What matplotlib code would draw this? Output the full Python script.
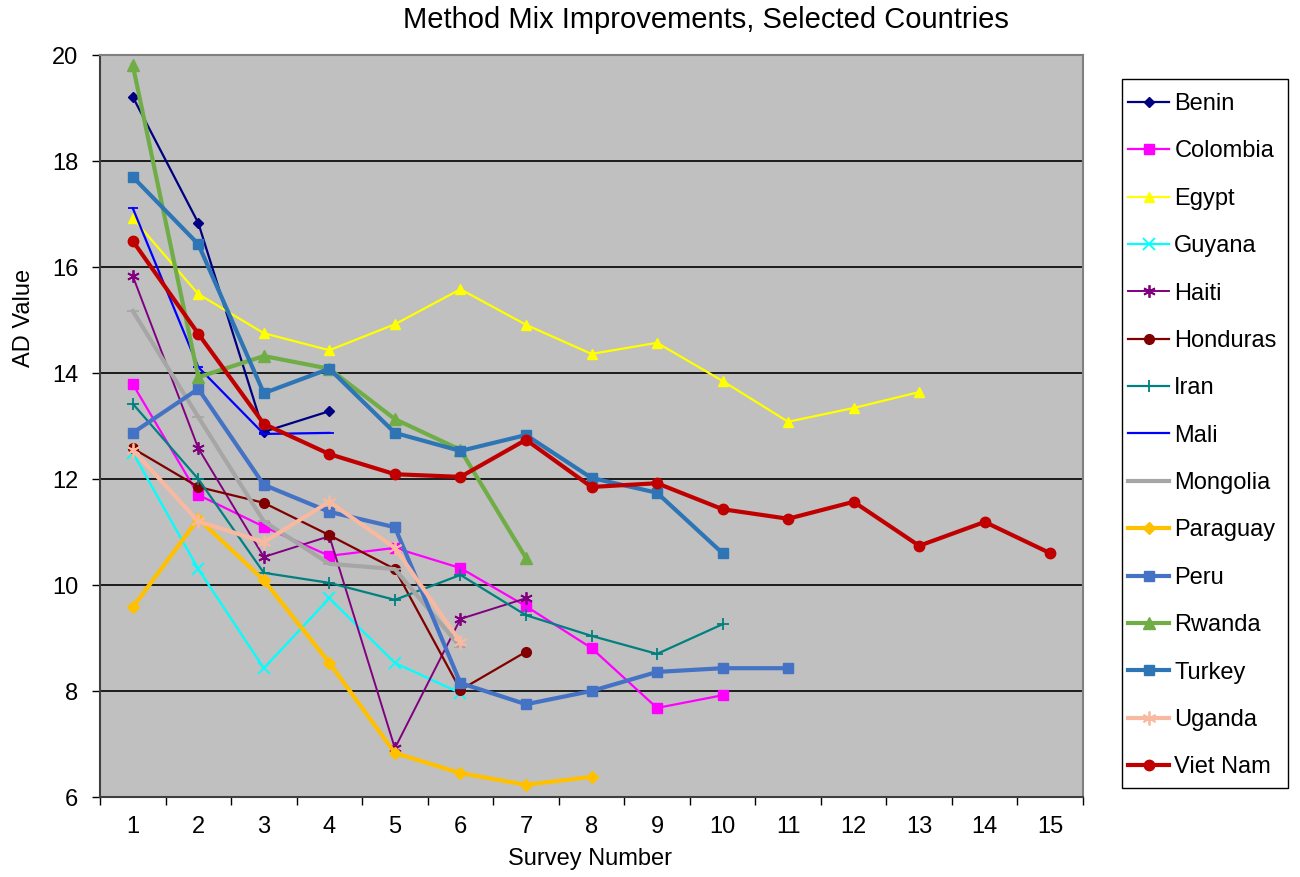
import matplotlib
matplotlib.use("Agg")
import matplotlib.pyplot as plt
from matplotlib.ticker import FixedLocator, NullFormatter
from matplotlib.patches import Rectangle

plt.rcParams['font.family'] = ['Liberation Sans', 'DejaVu Sans']

countries = ["Benin", "Colombia", "Egypt", "Guyana", "Haiti", "Honduras", "Iran",
             "Mali", "Mongolia", "Paraguay", "Peru", "Rwanda", "Turkey", "Uganda", "Viet Nam"]

benin = [19.21, 16.83, 12.89, 13.28]
colombia = [13.79, 11.70, 11.10, 10.55, 10.70, 10.32, 9.60, 8.81, 7.68, 7.92]
egypt = [16.92, 15.49, 14.75, 14.43, 14.92, 15.58, 14.91, 14.36, 14.57, 13.85, 13.08, 13.34, 13.64]
guyana = [12.50, 10.30, 8.43, 9.75, 8.53, 7.96]
haiti = [15.83, 12.58, 10.53, 10.92, 6.92, 9.36, 9.75]
honduras = [12.58, 11.85, 11.55, 10.94, 10.30, 8.02, 8.74]
iran = [13.42, 12.00, 10.23, 10.04, 9.72, 10.19, 9.43, 9.04, 8.70, 9.26]
mali = [17.11, 14.11, 12.85, 12.87]
mongolia = [15.17, 13.17, 11.20, 10.40, 10.30, 8.83]
paraguay = [9.58, 11.25, 10.09, 8.53, 6.83, 6.45, 6.23, 6.38]
peru = [12.87, 13.70, 11.89, 11.38, 11.09, 8.15, 7.75, 8.00, 8.36, 8.43, 8.43]
rwanda = [19.81, 13.92, 14.32, 14.08, 13.13, 12.55, 10.51]
turkey = [17.70, 16.43, 13.62, 14.08, 12.87, 12.53, 12.83, 12.02, 11.74, 10.60]
uganda = [12.55, 11.20, 10.81, 11.57, 10.70, 8.92]
vietnam = [16.49, 14.74, 13.04, 12.47, 12.09, 12.04, 12.74, 11.85, 11.92, 11.43,
           11.25, 11.57, 10.74, 11.19, 10.60]

series = [benin, colombia, egypt, guyana, haiti, honduras, iran, mali, mongolia,
          paraguay, peru, rwanda, turkey, uganda, vietnam]

# style: color, marker, linewidth, markersize
styles = [
    ("#000080", "D", 1.6, 5.5),
    ("#FF00FF", "s", 1.6, 6.5),
    ("#FFFF00", "^", 1.6, 7.5),
    ("#00FFFF", "x", 1.6, 8),
    ("#800080", (6, 2, 0), 1.4, 9),
    ("#800000", "o", 1.6, 7),
    ("#008080", "+", 1.6, 9),
    ("#0000FF", "_", 1.6, 7),
    ("#A6A6A6", "_", 3.0, 9),
    ("#FFC000", "D", 3.0, 6),
    ("#4472C4", "s", 3.0, 7.5),
    ("#70AD47", "^", 3.0, 8),
    ("#2E75B6", "s", 3.0, 7.5),
    ("#F8B9A0", (6, 2, 0), 3.0, 10),
    ("#C00000", "o", 3.0, 7.5),
]

FS = 17

fig = plt.figure(figsize=(13, 8.77), dpi=100)
ax = fig.add_axes([100/1300, 80/877, 983/1300, 742/877])
ax.set_facecolor("#C0C0C0")

handles = []
for i, (name, vals, st) in enumerate(zip(countries, series, styles)):
    color, marker, lw, ms = st
    x = list(range(1, len(vals) + 1))
    mew = 1.3 if marker in ("x", "+", "_") or isinstance(marker, tuple) else 1.0
    h, = ax.plot(x, vals, color=color, marker=marker, linewidth=lw, markersize=ms,
                 markeredgewidth=mew, markeredgecolor=color, markerfacecolor=color,
                 label=name, zorder=3 + i, solid_joinstyle="round")
    handles.append(h)

ax.set_xlim(0.5, 15.5)
ax.set_ylim(6, 20)
ax.set_yticks(range(6, 21, 2))
ax.yaxis.grid(True, color="black", linewidth=1.2, zorder=1)
ax.set_axisbelow(True)

ax.xaxis.set_major_locator(FixedLocator([i + 0.5 for i in range(0, 16)]))
ax.xaxis.set_major_formatter(NullFormatter())
ax.xaxis.set_minor_locator(FixedLocator(list(range(1, 16))))
ax.set_xticklabels([str(i) for i in range(1, 16)], minor=True)
ax.tick_params(axis="x", which="minor", length=0, pad=14, labelsize=FS)
ax.tick_params(axis="x", which="major", length=5.5, width=1, direction="out")
ax.tick_params(axis="y", length=5.5, width=1, direction="out", labelsize=FS, pad=10)

for sp in ["top", "right"]:
    ax.spines[sp].set_color("#808080")
    ax.spines[sp].set_linewidth(1.5)
for sp in ["left", "bottom"]:
    ax.spines[sp].set_color("#404040")
    ax.spines[sp].set_linewidth(1.5)

ax.set_xlabel("Survey Number", fontsize=FS)
ax.xaxis.set_label_coords(590/1300, 1 - 848/877, transform=fig.transFigure)
ax.set_ylabel("AD Value", fontsize=FS)
ax.yaxis.set_label_coords(35/1300, 1 - 318/877, transform=fig.transFigure)
fig.text(706/1300, 1 - 20/877, "Method Mix Improvements, Selected Countries",
         ha="center", va="center", fontsize=21)

fig.patches.append(Rectangle((1122/1300, 1 - 788/877), 166/1300, 709/877,
                             transform=fig.transFigure, fill=True,
                             facecolor="white", edgecolor="black", linewidth=1.0,
                             zorder=-1))

leg = fig.legend(handles=handles, labels=countries, loc="upper left",
                 bbox_to_anchor=(1128/1300, 1 - 93/877),
                 bbox_transform=fig.transFigure, fontsize=FS, frameon=False,
                 labelspacing=1.075, handlelength=1.74, handletextpad=0.22,
                 borderpad=0, borderaxespad=0)
leg.set_zorder(10)

fig.savefig("out.png", dpi=100, facecolor="white")
